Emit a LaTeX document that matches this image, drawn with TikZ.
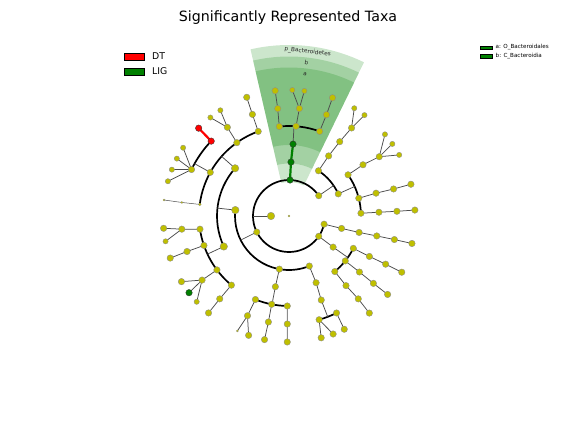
\documentclass[tikz,border=0pt]{standalone}
\usepackage{fontspec}
\setmainfont{DejaVu Sans}
\definecolor{ylw}{RGB}{191,191,0}
\definecolor{grn}{RGB}{0,128,0}
\tikzset{
  tn/.style={circle, draw=black!45, line width=0.35pt, fill=ylw, inner sep=0pt, minimum size=6.5pt},
  bign/.style={minimum size=7.5pt},
  smn/.style={minimum size=5.3pt},
  tinyn/.style={minimum size=2.2pt, line width=0.2pt},
  gnode/.style={fill=grn, draw=black!80},
  rnode/.style={fill=red, draw=black!80},
  ring/.style={line width=1.7pt, black},
  lnk/.style={line width=0.75pt, black!70},
  glnk/.style={line width=2.2pt, grn},
  rlnk/.style={line width=2.2pt, red},
  wedge/.style={fill=grn, opacity=0.2},
  wlab/.style={font=\fontsize{5.8}{6}\selectfont, text=black!85, inner sep=0pt},
  legbox/.style={draw=black, line width=0.5pt},
  rleg/.style={anchor=west, font=\fontsize{5.6}{6}\selectfont, inner sep=0pt},
}
\begin{document}
\begin{tikzpicture}[x=1pt,y=1pt]
\useasboundingbox (0,0) rectangle (576,432);
\node[font=\fontsize{14.2}{16}\selectfont] (title) at (288,414.5) {Significantly Represented Taxa};
% left legend
\draw[legbox, fill=red] (124,372) rectangle (144.5,378.7);
\node[anchor=west, font=\fontsize{9.3}{10}\selectfont, inner sep=0pt] (lDT) at (152,375.6) {DT};
\draw[legbox, fill=grn] (124,357) rectangle (144.5,363.7);
\node[anchor=west, font=\fontsize{9.3}{10}\selectfont, inner sep=0pt] (lLIG) at (152,360.6) {LIG};
% right legend
\draw[legbox, line width=0.3pt, fill=grn] (480,382.5) rectangle (492,386.3);
\node[rleg] (la) at (495.5,384.6) {a: O\_Bacteroidales};
\draw[legbox, line width=0.3pt, fill=grn] (480,374) rectangle (492,377.8);
\node[rleg] (lb) at (495.5,376.1) {b: C\_Bacteroidia};

\begin{scope}[shift={(289,216)}]
% highlighted wedges
\fill[wedge] (64:34) arc[start angle=64, end angle=103, radius=34pt] -- (103:171) arc[start angle=103, end angle=64, radius=171pt] -- cycle;
\fill[wedge] (64:52.5) arc[start angle=64, end angle=103, radius=52.5pt] -- (103:159.5) arc[start angle=103, end angle=64, radius=159.5pt] -- cycle;
\fill[wedge] (64:71) arc[start angle=64, end angle=103, radius=71pt] -- (103:148.5) arc[start angle=103, end angle=64, radius=148.5pt] -- cycle;
\node[wlab, rotate=-6.5] (wp) at (83.5:165.3) {p\_Bacteroidetes};
\node[wlab, rotate=-6.5] (wb) at (83.5:154) {b};
\node[wlab, rotate=-6.5] (wa) at (83.5:142.5) {a};

% coordinates
\coordinate (R) at (0,0);
\coordinate (n1) at (180:18);
\coordinate (pA) at (34.3:36);
\coordinate (pB) at (88.4:36);
\coordinate (pC) at (206.5:36);
\coordinate (pD) at (325.7:36);
\coordinate (pE) at (346.9:36);
% A
\coordinate (cA1) at (56.9:54);
\coordinate (cA2) at (24.2:54);
\coordinate (oA1) at (56.6:72);
\coordinate (fA1) at (55.7:90);
\coordinate (gA1) at (54.6:108);
\coordinate (sA1a) at (58.8:126);
\coordinate (sA1b) at (53.2:126);
\coordinate (oA2) at (34.9:72);
\coordinate (fA2) at (34.7:90);
\coordinate (gA2) at (33.3:108);
\coordinate (sA2a) at (40.4:126);
\coordinate (sA2b) at (34.9:126);
\coordinate (sA2c) at (29:126);
\coordinate (oA3) at (14.3:72);
\coordinate (fA3) at (14.7:90);
\coordinate (gA3) at (14.5:108);
\coordinate (sA3) at (14.6:126);
\coordinate (oA4) at (2.2:72);
\coordinate (fA4) at (2.4:90);
\coordinate (gA4) at (2.5:108);
\coordinate (sA4) at (2.7:126);
% B
\coordinate (cB) at (87.9:54);
\coordinate (oB) at (86.8:72);
\coordinate (fB1) at (96.2:90);
\coordinate (gB1) at (96:108);
\coordinate (sB1) at (96.3:126);
\coordinate (fB2) at (85.5:90);
\coordinate (gB2) at (84.5:108);
\coordinate (sB2a) at (88.5:126);
\coordinate (sB2b) at (83:126);
\coordinate (fB3) at (70.1:90);
\coordinate (gB3) at (69.7:108);
\coordinate (sB3) at (69.8:126);
% C
\coordinate (cC1) at (173.7:54);
\coordinate (cC2) at (259.7:54);
\coordinate (cC3) at (292.1:54);
\coordinate (oC1) at (138.5:72);
\coordinate (oC2) at (205.05:72);
\coordinate (oC3) at (259.1:72);
\coordinate (oC4) at (292.1:72);
\coordinate (fC1) at (110:90);
\coordinate (gC1) at (109.8:108);
\coordinate (sC1) at (109.6:126);
\coordinate (fC2) at (125.4:90);
\coordinate (gC2) at (124.8:108);
\coordinate (sC2a) at (123:126);
\coordinate (sC2b) at (128.6:126);
\coordinate (fC3) at (151:90);
\coordinate (gC3r) at (136.1:108);
\coordinate (sC3r) at (135.8:126);
\coordinate (gC3) at (154.5:108);
\coordinate (sC3a) at (147.2:126);
\coordinate (sC3b) at (152.9:126);
\coordinate (sC3c) at (158.4:126);
\coordinate (sC3d) at (164:126);
\coordinate (fC4) at (172.6:90);
\coordinate (gC4) at (172.8:108);
\coordinate (sC4) at (172.7:126);
\coordinate (fC5) at (188.4:90);
\coordinate (gC5) at (187:108);
\coordinate (sC5a) at (185.6:126);
\coordinate (sC5b) at (191.6:126);
\coordinate (fC6) at (199.1:90);
\coordinate (gC6) at (199.2:108);
\coordinate (sC6) at (199.5:126);
\coordinate (fC7) at (216.8:90);
\coordinate (gC7) at (216.4:108);
\coordinate (sC7a) at (211.4:126);
\coordinate (sC7b) at (217.5:126);
\coordinate (sC7c) at (222.9:126);
\coordinate (fC8) at (230.2:90);
\coordinate (gC8) at (230.1:108);
\coordinate (sC8) at (230.3:126);
\coordinate (fC9) at (248.1:90);
\coordinate (gC9) at (247.4:108);
\coordinate (sC9a) at (245.8:126);
\coordinate (sC9b) at (251.3:126);
\coordinate (fC10) at (258.9:90);
\coordinate (gC10) at (259:108);
\coordinate (sC10) at (258.8:126);
\coordinate (fC11) at (268.9:90);
\coordinate (gC11) at (269.1:108);
\coordinate (sC11) at (269.2:126);
\coordinate (fC12) at (291:90);
\coordinate (gC12) at (286.2:108);
\coordinate (sC12a) at (284.8:126);
\coordinate (sC12b) at (290.5:126);
\coordinate (gC13) at (296.1:108);
\coordinate (sC13) at (296:126);
% D
\coordinate (cD) at (324.8:54);
\coordinate (oD1) at (333.3:72);
\coordinate (fD1) at (333.3:90);
\coordinate (gD1) at (333.5:108);
\coordinate (sD1) at (333.5:126);
\coordinate (oD2) at (321.4:72);
\coordinate (fD2) at (321.5:90);
\coordinate (gD2) at (321.4:108);
\coordinate (sD2) at (321.5:126);
\coordinate (oD3) at (309.5:72);
\coordinate (fD3) at (309.3:90);
\coordinate (gD3) at (309.9:108);
\coordinate (sD3) at (309.6:126);
% E
\coordinate (cE) at (346.7:54);
\coordinate (oE) at (346.8:72);
\coordinate (fE) at (347.2:90);
\coordinate (gE) at (347.4:108);
\coordinate (sE) at (347.4:126);

% arcs joining siblings
\draw[ring] (34.3:36) arc[start angle=34.3, end angle=346.9, radius=36pt];
\draw[ring] (24.2:54) arc[start angle=24.2, end angle=56.9, radius=54pt];
\draw[ring] (2.2:72) arc[start angle=2.2, end angle=34.9, radius=72pt];
\draw[ring] (70.1:90) arc[start angle=70.1, end angle=96.2, radius=90pt];
\draw[ring] (173.7:54) arc[start angle=173.7, end angle=292.1, radius=54pt];
\draw[ring] (138.5:72) arc[start angle=138.5, end angle=205.05, radius=72pt];
\draw[ring] (110:90) arc[start angle=110, end angle=172.6, radius=90pt];
\draw[ring] (136.1:108) arc[start angle=136.1, end angle=154.5, radius=108pt];
\draw[ring] (188.4:90) arc[start angle=188.4, end angle=230.2, radius=90pt];
\draw[ring] (248.1:90) arc[start angle=248.1, end angle=268.9, radius=90pt];
\draw[ring] (286.2:108) arc[start angle=286.2, end angle=296.1, radius=108pt];
\draw[ring] (309.5:72) arc[start angle=309.5, end angle=333.3, radius=72pt];

% radial stems from parents to sibling arcs
\draw[lnk] (n1) -- (180:36);
\draw[lnk] (pA) -- (34.3:54);
\draw[lnk] (cA2) -- (24.2:72);
\draw[lnk] (oB) -- (86.8:90);
\draw[lnk] (pC) -- (206.5:54);
\draw[lnk] (cC1) -- (173.7:72);
\draw[lnk] (oC1) -- (138.5:90);
\draw[lnk] (fC3) -- (151:108);
\draw[lnk] (oC2) -- (205.05:90);
\draw[lnk] (oC3) -- (259.1:90);
\draw[lnk] (fC12) -- (291:108);
\draw[lnk] (cD) -- (324.8:72);

% direct links
\draw[lnk] (cA1) -- (oA1) -- (fA1) -- (gA1);
\draw[lnk] (gA1) -- (sA1a) (gA1) -- (sA1b);
\draw[lnk] (oA2) -- (fA2) -- (gA2);
\draw[lnk] (gA2) -- (sA2a) (gA2) -- (sA2b) (gA2) -- (sA2c);
\draw[lnk] (oA3) -- (fA3) -- (gA3) -- (sA3);
\draw[lnk] (oA4) -- (fA4) -- (gA4) -- (sA4);
\draw[glnk] (pB) -- (cB) -- (oB);
\draw[lnk] (fB1) -- (gB1) -- (sB1);
\draw[lnk] (fB2) -- (gB2);
\draw[lnk] (gB2) -- (sB2a) (gB2) -- (sB2b);
\draw[lnk] (fB3) -- (gB3) -- (sB3);
\draw[lnk] (fC1) -- (gC1) -- (sC1);
\draw[lnk] (fC2) -- (gC2);
\draw[lnk] (gC2) -- (sC2a) (gC2) -- (sC2b);
\draw[rlnk] (gC3r) -- (sC3r);
\draw[lnk] (gC3) -- (sC3a) (gC3) -- (sC3b) (gC3) -- (sC3c) (gC3) -- (sC3d);
\draw[lnk, line width=0.5pt] (fC4) -- (gC4) -- (sC4);
\draw[lnk] (fC5) -- (gC5);
\draw[lnk] (gC5) -- (sC5a) (gC5) -- (sC5b);
\draw[lnk] (fC6) -- (gC6) -- (sC6);
\draw[lnk] (fC7) -- (gC7);
\draw[lnk] (gC7) -- (sC7a) (gC7) -- (sC7b) (gC7) -- (sC7c);
\draw[lnk] (fC8) -- (gC8) -- (sC8);
\draw[lnk] (cC2) -- (oC3);
\draw[lnk] (fC9) -- (gC9);
\draw[lnk] (gC9) -- (sC9a) (gC9) -- (sC9b);
\draw[lnk] (fC10) -- (gC10) -- (sC10);
\draw[lnk, black!45, line width=1pt] (fC11) -- (gC11) -- (sC11);
\draw[lnk] (cC3) -- (oC4) -- (fC12);
\draw[lnk] (gC12) -- (sC12a) (gC12) -- (sC12b);
\draw[lnk] (gC13) -- (sC13);
\draw[lnk] (pD) -- (cD);
\draw[lnk] (oD1) -- (fD1) -- (gD1) -- (sD1);
\draw[lnk] (oD2) -- (fD2) -- (gD2) -- (sD2);
\draw[lnk] (oD3) -- (fD3) -- (gD3) -- (sD3);
\draw[lnk] (pE) -- (cE) -- (oE) -- (fE) -- (gE) -- (sE);

% nodes
\foreach \n in {pA,pC,pD,pE,cA1,cA2,oA1,fA1,gA1,oA2,fA2,gA2,oA3,fA3,gA3,sA3,oA4,fA4,gA4,sA4,
  fB1,gB1,sB1,fB2,gB2,fB3,gB3,sB3,
  cC2,cC3,oC3,oC4,fC1,gC1,sC1,fC2,gC2,fC3,gC3,fC5,gC5,sC5a,fC6,gC6,sC6,fC7,gC7,sC7a,fC8,gC8,sC8,
  fC9,gC9,sC9b,fC10,gC10,sC10,fC11,gC11,sC11,fC12,gC12,sC12a,sC12b,gC13,sC13,
  cD,oD1,fD1,gD1,sD1,oD2,fD2,gD2,sD2,oD3,fD3,gD3,sD3,cE,oE,fE,gE,sE}
  \node[tn] (\n-n) at (\n) {};
\foreach \n in {n1,cC1,oC1,oC2}
  \node[tn, bign] (\n-n) at (\n) {};
\foreach \n in {sA1a,sA1b,sA2a,sA2b,sA2c,sB2a,sB2b,sC2a,sC2b,sC3a,sC3b,sC3c,sC3d,sC5b,sC7c}
  \node[tn, smn] (\n-n) at (\n) {};
\foreach \n in {R,gC4,sC4,sC9a}
  \node[tn, tinyn] (\n-n) at (\n) {};
\node[tn, minimum size=3pt, line width=0.2pt] (fC4-n) at (fC4) {};
\foreach \n in {pB,cB,oB,sC7b}
  \node[tn, gnode] (\n-n) at (\n) {};
\foreach \n in {gC3r,sC3r}
  \node[tn, rnode] (\n-n) at (\n) {};
\end{scope}
\end{tikzpicture}
\end{document}
